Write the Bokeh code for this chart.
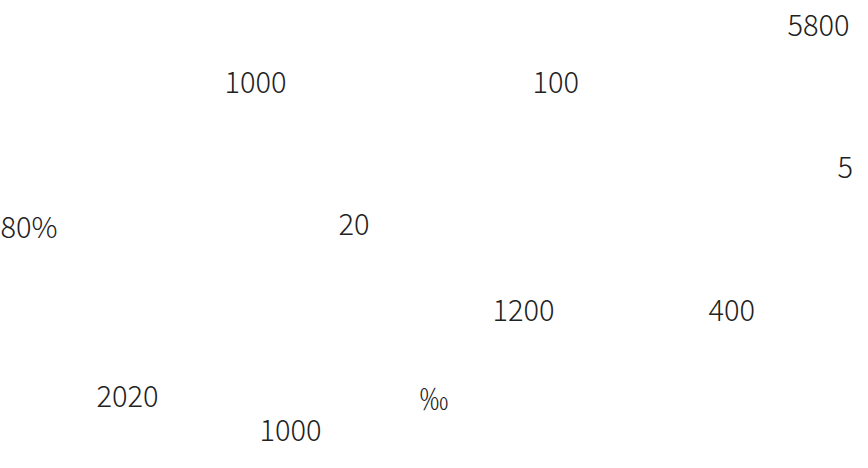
from bokeh.plotting import figure
from bokeh.models import ColumnDataSource, Range1d
from bokeh.core.properties import value
from bokeh.embed import file_html
from bokeh.resources import INLINE

# Visible text fragments of the reference (the rest of its text shows no glyphs)
labels = ["5800", "1000", "100", "5", "80%", "20", "1200", "400", "2020", "\u2030", "1000"]

# layout: left edge and baseline in page pixels
x_pos = [795, 232, 540, 845, 8, 346, 500, 716, 104, 427, 267]
y_pos = [33, 90, 90, 175, 232, 232, 318, 318, 404, 404, 438]

W, H = 860, 452
MARGIN = 8

src = ColumnDataSource(dict(
    x=[v - MARGIN for v in x_pos],
    y=[v - MARGIN for v in y_pos],
    t=labels,
))

p = figure(width=W, height=H, output_backend="svg", toolbar_location=None,
           x_range=Range1d(0, W), y_range=Range1d(H, 0),
           min_border=0, min_border_left=0, min_border_right=0,
           min_border_top=0, min_border_bottom=0)
p.xaxis.visible = False
p.yaxis.visible = False
p.grid.visible = False
p.outline_line_color = None
p.background_fill_color = "white"
p.border_fill_color = "white"

p.text(x="x", y="y", text="t", source=src,
       text_font=value("Noto Sans CJK SC Light"),
       text_font_size="29px", text_color="#222222",
       text_align="left", text_baseline="alphabetic")

open("out.html", "w").write(file_html(p, INLINE))
